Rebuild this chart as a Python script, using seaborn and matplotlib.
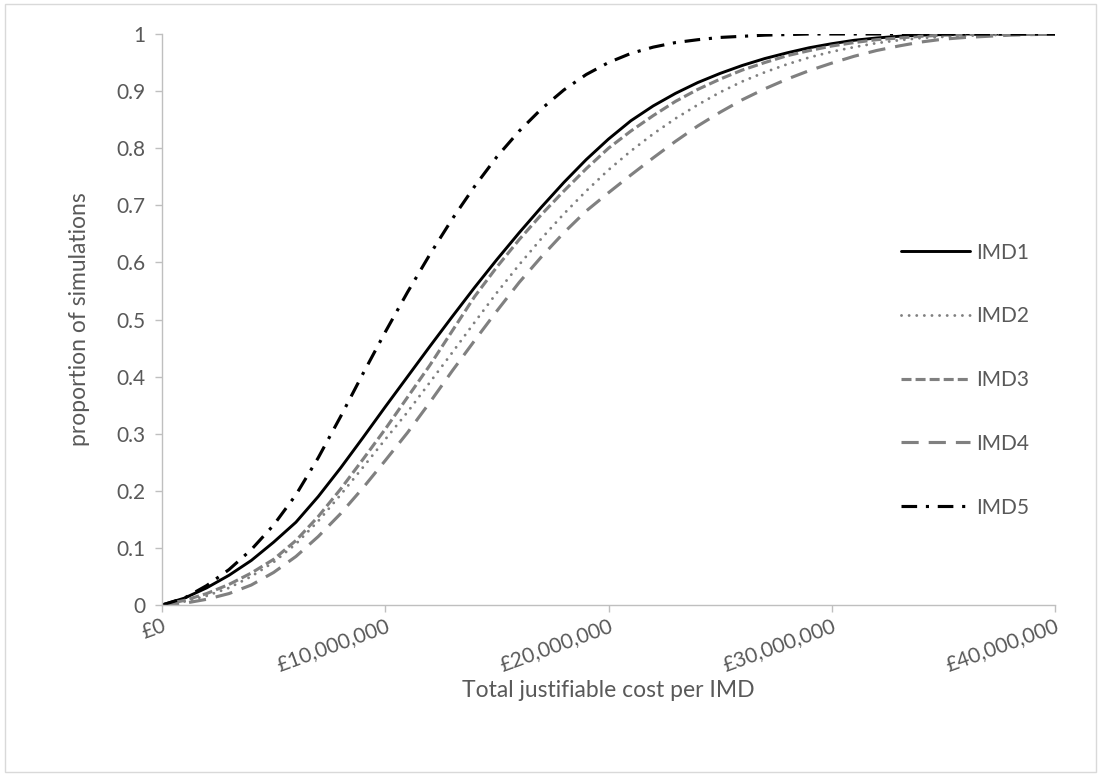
import matplotlib
matplotlib.use("Agg")
import matplotlib.pyplot as plt
import numpy as np
import pandas as pd
import seaborn as sns
from matplotlib.patches import Rectangle

# cost per IMD in £ millions (one point per £1m)
cost_millions = list(range(41))

imd1 = [0.0, 0.012, 0.03, 0.052, 0.078, 0.11, 0.145, 0.19, 0.24, 0.293,
        0.347, 0.40, 0.453, 0.505, 0.556, 0.605, 0.652, 0.697, 0.74, 0.78,
        0.816, 0.848, 0.874, 0.896, 0.915, 0.931, 0.945, 0.957, 0.967, 0.976,
        0.983, 0.989, 0.993, 0.996, 0.998, 0.999, 1.0, 1.0, 1.0, 1.0, 1.0]
imd2 = [0.0, 0.006, 0.016, 0.03, 0.05, 0.075, 0.107, 0.147, 0.193, 0.241,
        0.29, 0.338, 0.39, 0.442, 0.495, 0.547, 0.596, 0.642, 0.685, 0.725,
        0.762, 0.795, 0.825, 0.852, 0.876, 0.898, 0.917, 0.933, 0.947, 0.959,
        0.969, 0.977, 0.984, 0.989, 0.993, 0.995, 0.997, 0.998, 0.999, 1.0, 1.0]
imd3 = [0.0, 0.008, 0.02, 0.036, 0.056, 0.08, 0.113, 0.155, 0.203, 0.255,
        0.308, 0.364, 0.42, 0.48, 0.54, 0.592, 0.64, 0.684, 0.725, 0.764,
        0.80, 0.83, 0.857, 0.882, 0.903, 0.921, 0.937, 0.95, 0.962, 0.971,
        0.979, 0.985, 0.99, 0.993, 0.996, 0.998, 0.999, 1.0, 1.0, 1.0, 1.0]
imd4 = [0.0, 0.003, 0.01, 0.02, 0.035, 0.057, 0.085, 0.12, 0.16, 0.205,
        0.253, 0.302, 0.355, 0.41, 0.463, 0.515, 0.565, 0.61, 0.652, 0.69,
        0.722, 0.753, 0.783, 0.812, 0.839, 0.863, 0.885, 0.904, 0.921, 0.936,
        0.949, 0.961, 0.971, 0.979, 0.986, 0.991, 0.994, 0.996, 0.998, 0.999, 1.0]
imd5 = [0.0, 0.012, 0.034, 0.062, 0.097, 0.14, 0.193, 0.258, 0.33, 0.405,
        0.478, 0.548, 0.614, 0.676, 0.733, 0.785, 0.83, 0.869, 0.902, 0.929,
        0.95, 0.966, 0.977, 0.985, 0.99, 0.994, 0.996, 0.998, 0.999, 1.0,
        1.0, 1.0, 1.0, 1.0, 1.0, 1.0, 1.0, 1.0, 1.0, 1.0, 1.0]

series_names = ['IMD1', 'IMD2', 'IMD3', 'IMD4', 'IMD5']
series_values = [imd1, imd2, imd3, imd4, imd5]

x_ticks_m = [0, 10, 20, 30, 40]
x_tick_labels = ['£0', '£10,000,000', '£20,000,000', '£30,000,000', '£40,000,000']
y_ticks = [0, 0.1, 0.2, 0.3, 0.4, 0.5, 0.6, 0.7, 0.8, 0.9, 1]
y_tick_labels = ['0', '0.1', '0.2', '0.3', '0.4', '0.5', '0.6', '0.7', '0.8', '0.9', '1']

sns.set_theme(style='white')
plt.rcParams['font.family'] = ['Lato', 'DejaVu Sans']

text_col = '#595959'
axis_col = '#bfbfbf'
grey = '#808080'

styles = {
    'IMD1': dict(color='black', linewidth=2.1, linestyle='-'),
    'IMD2': dict(color=grey, linewidth=2.1, linestyle=(0, (0.01, 2.6)), dash_capstyle='round'),
    'IMD3': dict(color=grey, linewidth=2.25, linestyle=(0, (3.2, 1.3))),
    'IMD4': dict(color=grey, linewidth=2.25, linestyle=(0, (5.5, 3.2))),
    'IMD5': dict(color='black', linewidth=2.25, linestyle=(0, (5.0, 2.8, 1.0, 2.8))),
}

fig = plt.figure(figsize=(10.99, 7.75), dpi=100)
ax = fig.add_axes([162 / 1099, 1 - 605 / 775, (1055 - 162) / 1099, (605 - 34) / 775])

for name, values in zip(series_names, series_values):
    df = pd.DataFrame({'cost': np.array(cost_millions) * 1e6, 'prop': values})
    sns.lineplot(data=df, x='cost', y='prop', ax=ax, label=name, **styles[name])

ax.set_xlim(0, 40e6)
ax.set_ylim(0, 1)
ax.set_xticks([t * 1e6 for t in x_ticks_m])
ax.set_xticklabels(x_tick_labels, rotation=20, ha='right', va='top',
                   rotation_mode='anchor')
ax.set_yticks(y_ticks)
ax.set_yticklabels(y_tick_labels)

ax.tick_params(axis='both', colors=axis_col, labelcolor=text_col, labelsize=15,
               length=5, width=1, direction='out', bottom=True, left=True)
ax.tick_params(axis='x', pad=3)
ax.tick_params(axis='y', pad=7)

for side in ['top', 'right']:
    ax.spines[side].set_visible(False)
for side in ['left', 'bottom']:
    ax.spines[side].set_color(axis_col)
    ax.spines[side].set_linewidth(1)

ax.set_xlabel('Total justifiable cost per IMD', fontsize=16.5, color=text_col, labelpad=3)
ax.set_ylabel('proportion of simulations', fontsize=16.5, color=text_col, labelpad=19)

leg = ax.legend(loc='center left', bbox_to_anchor=(0.807, 0.394), frameon=False,
                fontsize=15, handlelength=3.3, handletextpad=0.3, labelspacing=2.1)
for txt in leg.get_texts():
    txt.set_color(text_col)

fig.patches.append(Rectangle((5 / 1099, 3 / 775), 1091 / 1099, 768 / 775,
                             transform=fig.transFigure, fill=False,
                             edgecolor='#d9d9d9', linewidth=1))

fig.savefig('out.png', dpi=100, facecolor='white')
